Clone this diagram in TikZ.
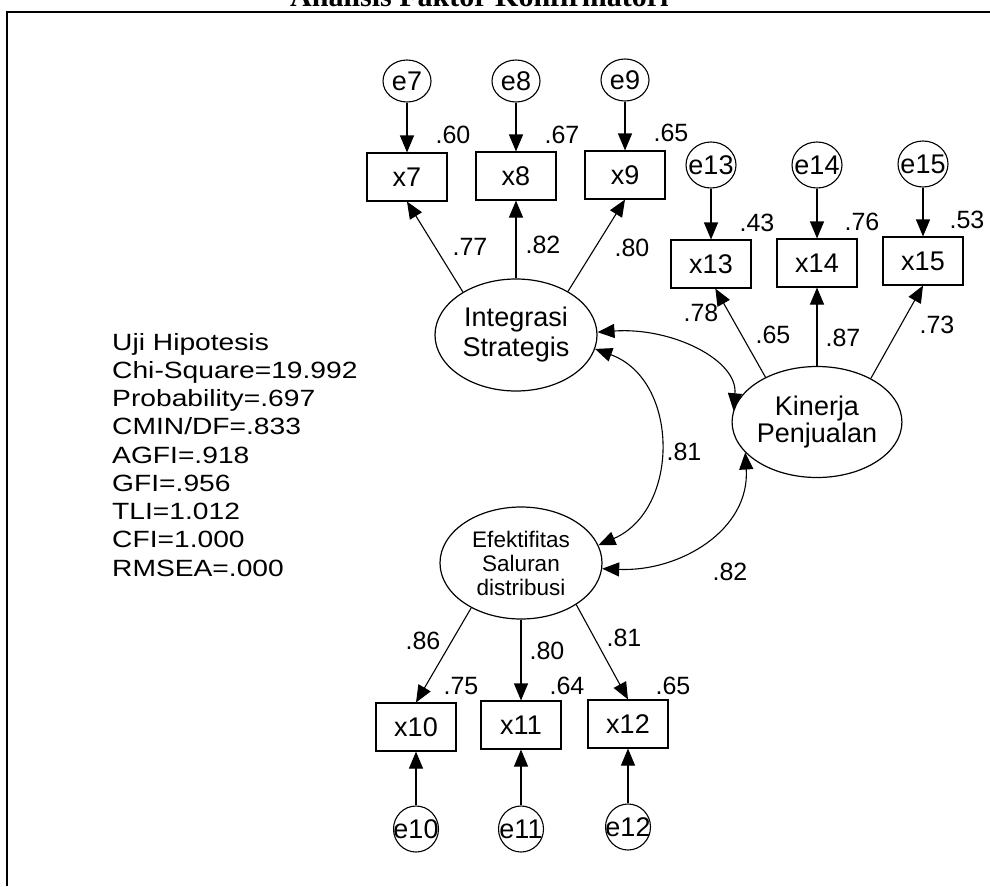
\documentclass[tikz,border=0pt]{standalone}
\usepackage{fontspec}
\setmainfont{Liberation Sans}
\newfontfamily\fitfont[FakeStretch=1.2]{Liberation Sans}
\newfontfamily\ttlfont{Liberation Serif}
\usetikzlibrary{arrows.meta,shapes.geometric}
\tikzset{
 lat/.style={ellipse, draw, line width=1.2pt, minimum width=162pt, minimum height=112pt, inner sep=0pt, align=center},
 obs/.style={rectangle, draw, line width=1.1pt, minimum width=80pt, minimum height=48pt, inner sep=0pt, font=\fontsize{27}{27}\selectfont},
 err/.style={ellipse, draw, line width=1.1pt, minimum width=48pt, minimum height=44pt, inner sep=0pt, font=\fontsize{27}{27}\selectfont},
 num/.style={inner sep=0pt, font=\fontsize{25}{25}\selectfont},
 arr/.style={-{Triangle[length=17pt,width=14pt]}, line width=1.1pt},
 cov/.style={{Triangle[length=17pt,width=14pt]}-{Triangle[length=17pt,width=14pt]}, line width=1.1pt},
 frame/.style={line width=2pt},
}
\begin{document}
\begin{tikzpicture}[x=1pt,y=1pt]
\useasboundingbox (0,0) rectangle (990,-886);
\begin{scope}
\clip (0,0) rectangle (990,-886);
\node[anchor=base west, inner sep=0pt, font=\ttlfont\bfseries\fontsize{30}{30}\selectfont] (title) at (290,-6) {Analisis Faktor Konfirmatori};
\end{scope}
\draw[frame] (7,-886) -- (7,-12) -- (990,-12);

% latent variables
\node[lat, font=\fontsize{27}{30}\selectfont] (IS) at (516,-335) {Integrasi\\Strategis};
\node[lat, minimum width=160pt, minimum height=111pt, font=\fontsize{27}{27}\selectfont] (KP) at (817,-422) {Kinerja\\Penjualan};
\node[lat, font=\fontsize{22.5}{24}\selectfont] (ES) at (521,-563) {Efektifitas\\Saluran\\distribusi};

% observed
\node[obs] (x7) at (407,-177) {x7};
\node[obs] (x8) at (516,-176) {x8};
\node[obs] (x9) at (625,-175) {x9};
\node[obs] (x13) at (711,-264) {x13};
\node[obs] (x14) at (817,-263) {x14};
\node[obs] (x15) at (923,-261) {x15};
\node[obs] (x10) at (416,-727) {x10};
\node[obs] (x11) at (521,-725) {x11};
\node[obs] (x12) at (628,-724) {x12};

% errors
\node[err, minimum height=42pt] (e7) at (407,-81) {\makebox[0pt]{e7}};
\node[err, minimum height=42pt] (e8) at (516,-81) {\makebox[0pt]{e8}};
\node[err, minimum height=42pt] (e9) at (625,-80) {\makebox[0pt]{e9}};
\node[err, minimum width=50pt, minimum height=46pt] (e13) at (711,-165) {\makebox[0pt]{e13}};
\node[err, minimum width=50pt, minimum height=46pt] (e14) at (817,-165) {\makebox[0pt]{e14}};
\node[err, minimum width=50pt, minimum height=46pt] (e15) at (923,-164) {\makebox[0pt]{e15}};
\node[err, minimum width=45pt, minimum height=46pt] (e10) at (416,-829) {\makebox[0pt]{e10}};
\node[err, minimum width=45pt, minimum height=46pt] (e11) at (521,-829) {\makebox[0pt]{e11}};
\node[err, minimum width=45pt, minimum height=46pt] (e12) at (628,-827) {\makebox[0pt]{e12}};

% error arrows
\draw[arr] (e7) -- (x7);
\draw[arr] (e8) -- (x8);
\draw[arr] (e9) -- (x9);
\draw[arr] (e13) -- (x13);
\draw[arr] (e14) -- (x14);
\draw[arr] (e15) -- (x15);
\draw[arr] (e10) -- (x10);
\draw[arr] (e11) -- (x11);
\draw[arr] (e12) -- (x12);

% loadings
\draw[arr] (IS.141) -- (x7.south);
\draw[arr] (IS.north) -- (x8.south);
\draw[arr] (IS.40) -- (x9.south);
\draw[arr] (KP.139) -- (x13.-80);
\draw[arr] (KP.north) -- (x14.south);
\draw[arr] (KP.39) -- (x15.south);
\draw[arr] (ES.222) -- (x10.north);
\draw[arr] (ES.south) -- (x11.north);
\draw[arr] (ES.323) -- (x12.north);

% covariances
\draw[cov] (IS.2) .. controls (672,-327) and (738,-360) .. (KP.172);
\draw[cov] (IS.-10) .. controls (680,-380) and (680,-510) .. (ES.13);
\draw[cov] (ES.-4) .. controls (680,-572) and (750,-530) .. (KP.203);

% numbers
\node[num] (n60) at (453,-135) {.60};
\node[num] (n67) at (562,-135) {.67};
\node[num] (n65a) at (671,-133) {.65};
\node[num] (n77) at (470,-247) {.77};
\node[num] (n82a) at (543,-245) {.82};
\node[num] (n80a) at (632,-248) {.80};
\node[num] (n43) at (757,-223) {.43};
\node[num] (n76) at (862,-222) {.76};
\node[num] (n53) at (967,-220) {.53};
\node[num] (n78) at (701,-313) {.78};
\node[num] (n65b) at (773,-335) {.65};
\node[num] (n87) at (843,-338) {.87};
\node[num] (n73) at (937,-325) {.73};
\node[num] (n81a) at (684,-452) {.81};
\node[num] (n82b) at (730,-572) {.82};
\node[num] (n86) at (423,-641) {.86};
\node[num] (n80b) at (547,-651) {.80};
\node[num] (n81b) at (624,-638) {.81};
\node[num] (n75) at (461,-686) {.75};
\node[num] (n64) at (567,-686) {.64};
\node[num] (n65c) at (673,-686) {.65};

% fit statistics
\node[anchor=north west, inner sep=0pt, align=left, font=\fitfont\fontsize{23.5}{28.25}\selectfont] (fit) at (112,-333)
{Uji Hipotesis\\Chi-Square=19.992\\Probability=.697\\CMIN/DF=.833\\AGFI=.918\\GFI=.956\\TLI=1.012\\CFI=1.000\\RMSEA=.000};
\end{tikzpicture}
\end{document}
